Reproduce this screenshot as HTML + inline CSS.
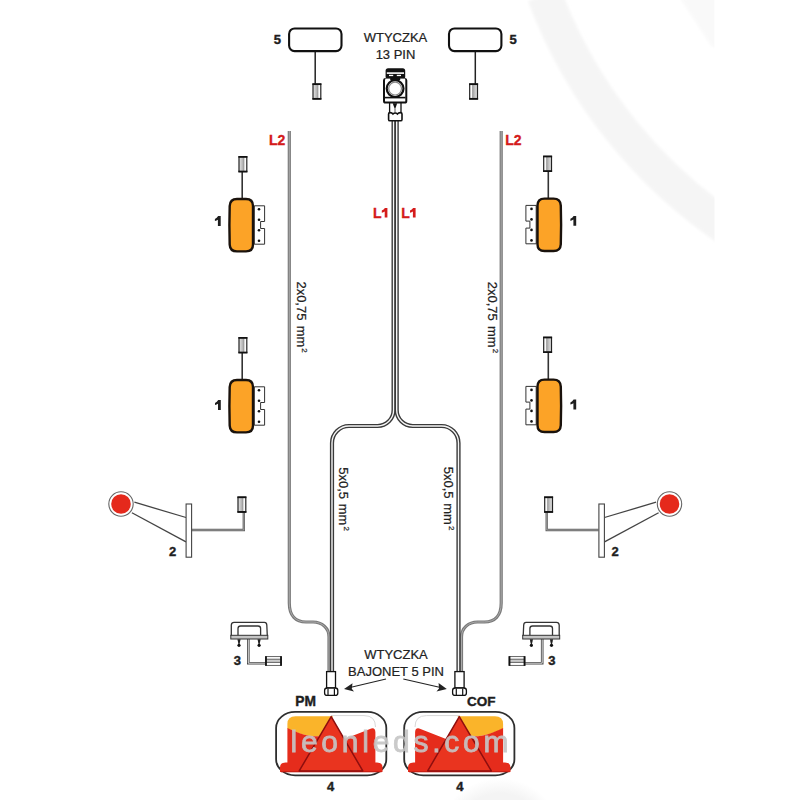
<!DOCTYPE html>
<html><head><meta charset="utf-8">
<style>
html,body{margin:0;padding:0;background:#fff;}
body{width:800px;height:800px;overflow:hidden;}
svg{display:block;}
text{font-family:"Liberation Sans",sans-serif;}
.b{font-weight:bold;fill:#1e1e1e;font-size:13px;stroke:#1e1e1e;stroke-width:0.4;}
.r{font-weight:bold;fill:#d41b1b;font-size:14px;stroke:#d41b1b;stroke-width:0.35;}
.t{fill:#222;font-size:13px;stroke:#222;stroke-width:0.22;}
.to{fill:none;stroke:#3a3a3a;stroke-width:4.2;}
.ti{fill:none;stroke:#f6f6f6;stroke-width:1.4;}
.l2o{fill:none;stroke:#7a7a7a;stroke-width:3.2;}
.l2i{fill:none;stroke:#aaaaaa;stroke-width:1.0;}
</style></head>
<body>
<svg width="800" height="800" viewBox="0 0 800 800">
<defs>
  <!-- small pin connector vertical -->
  <linearGradient id="pg" x1="0" y1="0" x2="1" y2="0">
    <stop offset="0" stop-color="#e8e8e8"/><stop offset="0.45" stop-color="#b8b8b8"/><stop offset="0.62" stop-color="#999"/><stop offset="0.75" stop-color="#fafafa"/><stop offset="1" stop-color="#fff"/>
  </linearGradient>
  <g id="pin">
    <rect x="0.6" y="0.8" width="7.8" height="15" fill="url(#pg)" stroke="#222" stroke-width="1.2"/>
    <line x1="0" y1="1" x2="9" y2="1" stroke="#111" stroke-width="1.7"/>
    <line x1="0" y1="15.6" x2="9" y2="15.6" stroke="#111" stroke-width="1.7"/>
  </g>
  <!-- item 1 left version -->
  <g id="it1">
    <line x1="242.2" y1="171" x2="242.2" y2="199" stroke="#333" stroke-width="1.6"/>
    <use href="#pin" x="238.4" y="155.9"/>
    <path d="M254.3,205.8 H264.6 V221.5 H260.6 V228.5 H264.6 V244.2 H254.3 Z" fill="#fff" stroke="#333" stroke-width="1"/>
    <circle cx="259" cy="209.3" r="1.3" fill="#111"/>
    <circle cx="259" cy="219.8" r="1.3" fill="#111"/>
    <circle cx="259" cy="230.3" r="1.3" fill="#111"/>
    <circle cx="259" cy="240.8" r="1.3" fill="#111"/>
    <path d="M237,199 H246 Q253,199 253,206 V244.6 Q253,251.4 246,251.4 H237 Q230,251.4 229.7,244.6 Q229.1,225 229.7,206 Q230,199 237,199 Z" fill="#fca327" stroke="#1a120c" stroke-width="2.4"/>
  </g>
  <!-- item 2 left version -->
  <g id="it2">
    <line x1="134.4" y1="502.2" x2="186" y2="517.5" stroke="#444" stroke-width="1.3"/>
    <line x1="131.9" y1="512.8" x2="186" y2="541.9" stroke="#444" stroke-width="1.3"/>
    <circle cx="121" cy="504" r="12.2" fill="#fff" stroke="#666" stroke-width="1.1"/>
    <circle cx="121" cy="504" r="9.8" fill="#e5291c"/>
    <path d="M192,530 H243.8 V512" fill="none" stroke="#666" stroke-width="2.4"/>
    <path d="M192,530 H243.8 V512" fill="none" stroke="#bbb" stroke-width="0.6"/>
    <rect x="186.1" y="504" width="5.5" height="53.2" fill="#fff" stroke="#444" stroke-width="1.1"/>
    <use href="#pin" x="237.4" y="496.3"/>
  </g>
  <!-- item 3 left version -->
  <g id="it3">
    <path d="M248.3,639 V663.2 H266" fill="none" stroke="#444" stroke-width="2.6"/>
    <path d="M248.3,639 V663.2 H266" fill="none" stroke="#eee" stroke-width="0.9"/>
    <path d="M231.3,636 V625 Q231.6,622.4 234,622.4 H264.4 Q266.6,622.4 266.8,625 L267.3,636" fill="#fff" stroke="#333" stroke-width="1.3"/>
    <path d="M238,635.5 V628.6 Q238,626 240.6,626 H258 Q260.6,626 260.6,628.6 V635.5" fill="none" stroke="#333" stroke-width="1.3"/>
    <rect x="230.8" y="635.3" width="37" height="3.7" fill="#c4c4c4" stroke="#333" stroke-width="1"/>
    <path d="M237.4,639.2 H240.6 L239.8,642.8 H238.2 Z M257.5,639.2 H260.7 L259.9,642.8 H258.3 Z" fill="#222"/>
    <line x1="239" y1="641" x2="239" y2="645" stroke="#222" stroke-width="1.4"/>
    <line x1="259.1" y1="641" x2="259.1" y2="645" stroke="#222" stroke-width="1.4"/>
    <circle cx="239" cy="645.3" r="1.6" fill="#111"/>
    <circle cx="259.1" cy="645.3" r="1.6" fill="#111"/>
    <rect x="265.6" y="656.6" width="15.8" height="8.8" fill="#fff" stroke="#555" stroke-width="0.9"/>
    <rect x="266" y="659" width="15" height="3.6" fill="#ccc"/>
    <line x1="266" y1="659.2" x2="281" y2="659.2" stroke="#444" stroke-width="0.8"/>
    <line x1="266" y1="662.4" x2="281" y2="662.4" stroke="#444" stroke-width="0.8"/>
    <line x1="266" y1="656.2" x2="266" y2="665.8" stroke="#111" stroke-width="1.8"/>
    <line x1="281" y1="656.2" x2="281" y2="665.8" stroke="#111" stroke-width="1.8"/>
  </g>
  <!-- item 5 left version -->
  <g id="it5">
    <line x1="315.2" y1="51" x2="315.2" y2="84" stroke="#222" stroke-width="1.5"/>
    <rect x="289.1" y="28.5" width="52.4" height="22.6" rx="5.5" ry="5.5" fill="#fff" stroke="#111" stroke-width="2.1"/>
    <use href="#pin" x="312.4" y="83.2"/>
  </g>
  <!-- lamp 4 left version -->
  <g id="it4">
    <rect x="276.1" y="711.9" width="110.2" height="63.4" rx="19" ry="16" fill="#fff" stroke="#2e2e2e" stroke-width="1.8"/>
    <path d="M331,715.6 H364 Q375.5,715.6 375.5,727" fill="none" stroke="#d8d8d8" stroke-width="1"/>
    <path d="M287.4,728.5 V724 Q287.4,716.2 295.5,716.2 H333 L322,737 L317.6,736.3 C308,736.8 298,733.4 287.4,728.5 Z" fill="#fab42a"/>
    <path d="M287.4,728 C298,733 308,736.8 317.6,736.3 L344.4,738.9 L370,729 Q372.2,727.9 373.8,728.6 Q375.4,729.6 375.4,732 V763.5 H287.4 Z" fill="#e52c1c"/>
    <path d="M280,772 V767.6 Q280,762.5 285.5,762.5 H377 Q382.5,762.5 382.5,767.6 V772 Z" fill="#e52c1c"/>
    <line x1="281" y1="771.8" x2="381.5" y2="771.8" stroke="#c01a12" stroke-width="1"/>
    <path d="M331.2,716.6 L362.8,770.9 H299.2 Z" fill="#e9341f" stroke="#8e0e0e" stroke-width="1.5" stroke-linejoin="round"/>
  </g>
  <path id="oner" d="M5.6,0 V9.7 H2.9 V3.6 Q1.8,4.4 0,4.8 V2.7 Q2,1.9 3.1,0 Z" fill="#d41b1b"/>
  <path id="one" d="M5.8,0 V9.8 H3 V3.6 Q1.8,4.5 0,4.9 V2.8 Q2,2 3.2,0 Z" fill="#1e1e1e"/>
</defs>

<!-- faint watermark arcs -->
<filter id="soft" x="-10%" y="-10%" width="120%" height="120%"><feGaussianBlur stdDeviation="1.5"/></filter>
<clipPath id="arcclip"><rect x="0" y="0" width="714.5" height="800"/></clipPath>
<g fill="none" stroke="#f5f5f5" clip-path="url(#arcclip)">
  <path d="M544.4,-5 A490.5,490.5 0 0 0 740,236.7" stroke-width="35" filter="url(#soft)"/>
</g>

<path d="M680,-2 L716,-2 L716,48 L711,46 Z" fill="#f9f9f9" filter="url(#soft)" clip-path="url(#arcclip)"/>
<radialGradient id="blob" cx="0.5" cy="0.5" r="0.5"><stop offset="0.75" stop-color="#f4f4f4"/><stop offset="1" stop-color="#fff"/></radialGradient>
<ellipse cx="500" cy="840" rx="62" ry="62" fill="url(#blob)"/>

<!-- wires -->
<path class="l2o" d="M289.3,131 V603 C289.3,616 296,622 306,622 H313 C322,622 329,628 329,637 V672"/>
<path class="l2i" d="M289.3,131 V603 C289.3,616 296,622 306,622 H313 C322,622 329,628 329,637 V672"/>
<path class="l2o" d="M501.2,131 V603 C501.2,616 494.5,622 484.5,622 H477.5 C468.5,622 461.5,628 461.5,637 V672"/>
<path class="l2i" d="M501.2,131 V603 C501.2,616 494.5,622 484.5,622 H477.5 C468.5,622 461.5,628 461.5,637 V672"/>

<path class="to" d="M393.6,120 V410 A16,16 0 0 1 377.6,426 H349 A17,17 0 0 0 332,443 V672"/>
<path class="ti" d="M393.6,120 V410 A16,16 0 0 1 377.6,426 H349 A17,17 0 0 0 332,443 V672"/>
<path class="to" d="M396.7,120 V410 A16,16 0 0 0 412.7,426 H441.5 A17,17 0 0 1 458.5,443 V672"/>
<path class="ti" d="M396.7,120 V410 A16,16 0 0 0 412.7,426 H441.5 A17,17 0 0 1 458.5,443 V672"/>

<!-- items left -->
<use href="#it5"/>
<use href="#it1"/>
<use href="#it1" y="181"/>
<use href="#it2"/>
<use href="#it3"/>
<use href="#it4"/>
<!-- items right (mirrored) -->
<g transform="matrix(-1,0,0,1,790.5,0)">
  <use href="#it5"/>
  <use href="#it1" y="-0.4"/>
  <use href="#it1" y="180.6"/>
  <use href="#it2"/>
  <use href="#it3"/>
  <use href="#it4"/>
</g>

<!-- 13 pin connector -->
<g>
  <!-- top cap -->
  <rect x="385.6" y="68.3" width="19.6" height="11" rx="2.5" fill="#111"/>
  <rect x="386.8" y="72.3" width="17.2" height="1.6" fill="#fff"/>
  <rect x="389" y="74.8" width="4.2" height="1.3" fill="#fff"/>
  <rect x="396.8" y="74.8" width="4.2" height="1.3" fill="#fff"/>
  <!-- body -->
  <path d="M385,79 H405.2 Q406.3,79 406.3,80.5 V101 Q406.3,102.6 404.8,102.6 H385.5 Q384,102.6 384,101 V80.5 Q384,79 385,79 Z" fill="#fff" stroke="#111" stroke-width="2"/>
  <rect x="385.2" y="78.6" width="5" height="1.6" fill="#fff"/>
  <rect x="400.2" y="78.6" width="5" height="1.6" fill="#fff"/>
  <circle cx="395.1" cy="88.6" r="8.4" fill="#fff" stroke="#111" stroke-width="2.2"/>
  <circle cx="395.1" cy="88.6" r="6.4" fill="#fff" stroke="#888" stroke-width="1.2"/>
  <path d="M385,97.6 H405.5" stroke="#111" stroke-width="1.6"/>
  <!-- neck -->
  <path d="M389.6,102.6 V112.6 M401,102.6 V112.6" stroke="#111" stroke-width="1.3"/>
  <path d="M392.7,103.3 H397.2 L395,109.6 Z" fill="#111"/>
  <path d="M395,109 V112.5" stroke="#333" stroke-width="0.8"/>
  <!-- ring -->
  <path d="M388.6,114 Q388.6,112.6 390,112.6 Q392,112.6 393,114 Q394,113 395.2,113 Q396.4,113 397.4,114 Q398.4,112.6 400.4,112.6 Q402,112.6 402,114 V119.4 Q402,120.8 400.6,120.8 H390 Q388.6,120.8 388.6,119.4 Z" fill="#fff" stroke="#111" stroke-width="1.6"/>
</g>

<!-- bajonet connectors -->
<g stroke="#111" stroke-width="1.3" fill="#fff">
  <rect x="326.6" y="671.6" width="8.9" height="16.4"/>
  <rect x="324.6" y="688" width="13.2" height="7.4" rx="2.5"/>
  <rect x="454.9" y="671.6" width="9.2" height="16.4"/>
  <rect x="452.6" y="688" width="13.8" height="7.4" rx="2.5"/>
</g>
<g stroke="#111" stroke-width="1.2">
  <line x1="328" y1="688.5" x2="328" y2="695" /><line x1="334.4" y1="688.5" x2="334.4" y2="695"/>
  <line x1="456.3" y1="688.5" x2="456.3" y2="695" /><line x1="462.7" y1="688.5" x2="462.7" y2="695"/>
</g>

<!-- arrows -->
<g stroke="#222" stroke-width="1.1" fill="#222">
  <line x1="386" y1="679" x2="350" y2="687.5"/>
  <path d="M344,689 L352.5,683.2 L351.8,688.8 L354,691.5 Z" stroke="none"/>
  <line x1="403.3" y1="679" x2="440.5" y2="687.5"/>
  <path d="M446.8,689 L436.5,691.6 L439,688.5 L438.6,683 Z" stroke="none"/>
</g>

<!-- watermark -->
<text x="290.5" y="752" font-size="30" fill="#c6c6c6" stroke="#c6c6c6" stroke-width="0.8" opacity="0.92" letter-spacing="3.75">leonleds.com</text>

<!-- labels -->
<text class="b" x="273.7" y="43.9">5</text>
<text class="b" x="509.4" y="43.9">5</text>
<text class="t" x="395.5" y="42" text-anchor="middle">WTYCZKA</text>
<text class="t" x="395.5" y="58.5" text-anchor="middle">13 PIN</text>
<text class="r" x="269" y="144.8">L2</text>
<text class="r" x="505.3" y="144.8">L2</text>
<text class="r" x="373.0" y="217.6">L</text><use href="#oner" x="381.8" y="207.9"/>
<text class="r" x="401.3" y="217.6">L</text><use href="#oner" x="410.0" y="207.9"/>
<use href="#one" x="214.9" y="216.1"/>
<use href="#one" x="570.4" y="216.0"/>
<use href="#one" x="215.0" y="400.1"/>
<use href="#one" x="570.4" y="399.6"/>
<text class="b" x="169" y="556.3">2</text>
<text class="b" x="611.5" y="556.1">2</text>
<text class="b" x="233.8" y="664.5">3</text>
<text class="b" x="548.3" y="664.8">3</text>
<text class="t" x="396" y="659.2" text-anchor="middle">WTYCZKA</text>
<text class="t" x="396" y="675.8" text-anchor="middle">BAJONET 5 PIN</text>
<text class="b" x="295.3" y="705.6" style="font-size:13.8px">PM</text>
<text class="b" x="466.9" y="706.2" style="font-size:13.5px">COF</text>
<text class="b" x="327" y="791">4</text>
<text class="b" x="456.2" y="791">4</text>

<text class="t" transform="translate(296.8,281.4) rotate(90)" word-spacing="1.6">2x0,75 mm<tspan font-size="8" dy="-5" dx="1">2</tspan></text>
<text class="t" transform="translate(488.3,281.8) rotate(90)" word-spacing="1.6">2x0,75 mm<tspan font-size="8" dy="-5" dx="1">2</tspan></text>
<text class="t" transform="translate(338.6,467.3) rotate(90)" word-spacing="1">5x0,5 mm<tspan font-size="8" dy="-5" dx="1">2</tspan></text>
<text class="t" transform="translate(444.4,466.8) rotate(90)" word-spacing="1">5x0,5 mm<tspan font-size="8" dy="-5" dx="1">2</tspan></text>
</svg>
</body></html>
